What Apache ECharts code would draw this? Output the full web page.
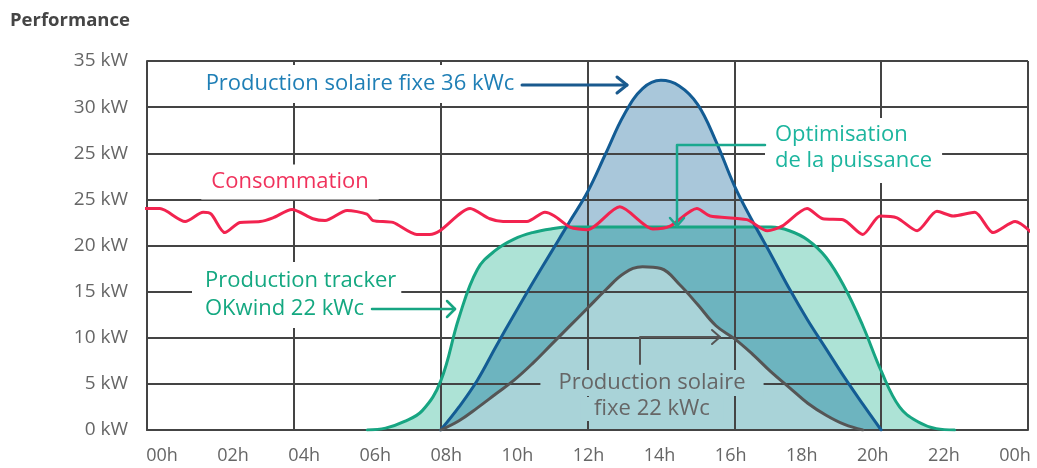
<!DOCTYPE html>
<html><head><meta charset="utf-8">
<script src="https://cdn.jsdelivr.net/npm/echarts@6/dist/echarts.min.js"></script>
<style>html,body{margin:0;padding:0;background:#fff}#c{width:1037px;height:468px}</style>
</head><body><div id="c"></div>
<script>
// ---- data (axis units: y in 5-unit steps matching tick labels, x in hours) ----
const yTickLabels = ['0 kW','5 kW','10 kW','15 kW','20 kW','25 kW','25 kW','30 kW','35 kW'];
const xTickLabels = ['00h','02h','04h','06h','08h','10h','12h','14h','16h','18h','20h','22h','00h'];

const trackerHours  = [6,6.5,7,7.5,8,8.5,9,9.5,10,10.5,11,11.5,12,12.5,13,13.5,14,14.5,15,15.5,16,16.5,17,17.5,18,18.5,19,19.5,20,20.5,21,21.5,22];
const trackerValues = [0,0.2,0.9,2.1,5.3,12.2,17.4,19.5,20.7,21.4,21.8,22,22,22,22,22,22,22,22,22,22,22,22,21.6,20.6,18.7,15.5,11.3,6.4,2.5,0.9,0.15,0];

const fixed36Hours  = [8,8.5,9,9.5,10,10.5,11,11.5,12,12.5,13,13.5,14,14.5,15,15.5,16,16.5,17,17.5,18,18.5,19,19.5,20];
const fixed36Values = [0,2.5,5.4,9.0,12.5,15.9,19.2,22.5,25.8,30.0,34.2,37.0,37.9,37.3,35.3,31.3,26.5,22.6,19.0,15.3,11.9,8.8,5.7,2.8,0];

const fixed22Hours  = [8,8.5,9,9.5,10,10.5,11,11.5,12,12.5,13,13.5,14,14.5,15,15.5,16,16.5,17,17.5,18,18.5,19,19.5];
const fixed22Values = [0,1.0,2.4,3.9,5.4,7.2,9.2,11.2,13.2,15.2,17.0,17.7,17.5,15.8,13.6,11.3,9.9,8.2,6.3,4.6,2.9,1.6,0.6,0];

const consumptionHours  = [-0.05,0.35,1.04,1.53,1.75,2.12,2.53,3.08,3.43,3.95,4.52,4.85,5.45,5.99,6.16,6.7,7.35,7.7,7.98,8.8,9.34,9.7,10.35,10.84,11.1,11.52,11.99,12.88,13.78,14.25,14.98,15.34,16.34,16.9,17.3,17.98,18.41,18.96,19.5,19.97,20.43,20.98,21.52,21.96,22.55,23.05,23.65,24.15];
const consumptionValues = [24.0,24.0,22.6,23.6,23.4,21.4,22.5,22.6,23.0,23.9,22.9,22.7,23.8,23.4,22.7,22.5,21.2,21.2,21.6,24.0,22.9,22.6,22.6,23.6,23.2,22.0,21.7,24.2,21.8,22.1,24.0,23.2,22.8,21.6,22.1,24.0,22.9,22.8,21.2,23.2,23.0,21.6,23.7,23.2,23.6,21.4,22.6,21.2];

// ---- build ----
const pairs = (h, v) => h.map((x, i) => [x, v[i]]);
const overlap = fixed36Hours.map((h, i) => {
  const t = trackerValues[trackerHours.indexOf(h)];
  return [h, Math.min(t, fixed36Values[i])];
});

const FONT = '"Open Sans", Lato, sans-serif';
const SM = 0.4;
const areaSeries = (data, color) => ({
  type: 'line', data, smooth: SM, symbol: 'none', z: 1, silent: true,
  lineStyle: { width: 0, opacity: 0 }, areaStyle: { color, opacity: 1 }
});
const lineSeries = (data, color, smooth, extra) => Object.assign({
  type: 'line', data, smooth, symbol: 'none', z: 4, silent: true,
  lineStyle: { color, width: 3, cap: 'round', join: 'round' }
}, extra || {});

const gridLine = { color: '#444', width: 2 };

const chart = echarts.init(document.getElementById('c'), null, { renderer: 'canvas' });
const txt = (text, x, y, fill, opts) => ({
  type: 'text', x, y, z: 100,
  style: Object.assign({ text, fill, font: '22px ' + FONT, lineHeight: 26, textAlign: 'center', align: 'center', textVerticalAlign: 'middle', verticalAlign: 'middle' }, opts || {})
});
const pl = (points, stroke, w) => ({ type: 'polyline', z: 101, shape: { points }, style: { stroke, lineWidth: w || 2.5, fill: null, lineCap: 'round', lineJoin: 'round' } });

chart.setOption({
  animation: false,
  backgroundColor: '#fff',
  title: { text: 'Performance', left: 5, top: 6, textStyle: { fontSize: 18.5, fontWeight: 'bold', color: '#454545', fontFamily: FONT } },
  grid: [
    { left: 147, right: 9, top: 61, bottom: 38 },
    { left: 162, right: 22, top: 61, bottom: 38 }
  ],
  xAxis: [
    { gridIndex: 0, type: 'value', min: 0, max: 24, interval: 4, z: 3,
      axisLine: { show: true, lineStyle: gridLine }, axisTick: { show: false }, axisLabel: { show: false },
      splitLine: { show: true, lineStyle: gridLine } },
    { gridIndex: 1, type: 'value', min: 0, max: 24, interval: 2,
      axisLine: { show: false }, axisTick: { show: false }, splitLine: { show: false },
      axisLabel: { formatter: v => xTickLabels[Math.round(v / 2)], color: '#666', fontSize: 18, margin: 17, fontFamily: FONT, showMinLabel: true, showMaxLabel: true } }
  ],
  yAxis: [
    { gridIndex: 0, type: 'value', min: 0, max: 40, interval: 5, z: 3,
      axisLine: { show: true, lineStyle: gridLine }, axisTick: { show: false },
      splitLine: { show: true, lineStyle: gridLine },
      axisLabel: { formatter: v => yTickLabels[Math.round(v / 5)], color: '#666', fontSize: 19, margin: 19, fontFamily: FONT, showMinLabel: true, showMaxLabel: true } },
    { gridIndex: 1, type: 'value', min: 0, max: 40, show: false }
  ],
  series: [
    areaSeries(pairs(fixed36Hours, fixed36Values), '#a9c7da'),
    areaSeries(pairs(trackerHours, trackerValues), '#ade3d6'),
    areaSeries(overlap, '#6db4bf'),
    areaSeries(pairs(fixed22Hours, fixed22Values), '#a9d3d8'),
    lineSeries(pairs(trackerHours, trackerValues), '#17a582', SM),
    lineSeries(pairs(fixed36Hours, fixed36Values), '#135c94', SM),
    lineSeries(pairs(fixed22Hours, fixed22Values), '#555555', SM),
    lineSeries(pairs(consumptionHours, consumptionValues), '#f2234f', 0.25, { clip: false, z: 5 })
  ],
  graphic: [
    txt('Production solaire fixe 36 kWc', 360, 84, '#1f7fb6', { backgroundColor: '#fff', padding: [6, 5, 6, 5] }),
    pl([[522, 85], [627, 85]], '#1a5a8e', 3),
    pl([[617, 77], [627, 85], [617, 93]], '#1a5a8e', 3),

    txt('Optimisation\nde la puissance', 765, 118, '#1cb59e', { textAlign: 'left', align: 'left', textVerticalAlign: 'top', verticalAlign: 'top', lineHeight: 26, backgroundColor: '#fff', padding: [4, 10, 9, 10] }),
    pl([[765, 145], [677, 145], [677, 226]], '#1aa88e', 2.5),
    pl([[670, 218], [677, 226], [684, 218]], '#1aa88e', 2.5),

    txt('Consommation', 290, 182, '#f0325c', { backgroundColor: '#fff', padding: [4, 10, 5, 10] }),

    txt('Production tracker\nOKwind 22 kWc', 192, 262, '#14a881', { textAlign: 'left', align: 'left', textVerticalAlign: 'top', verticalAlign: 'top', lineHeight: 28, backgroundColor: '#fff', padding: [5, 5, 5, 13] }),
    pl([[372, 309], [455, 309]], '#17a582', 2.5),
    pl([[447, 301], [455, 309], [447, 317]], '#17a582', 2.5),

    txt('Production solaire', 652, 383, '#666', { lineHeight: 24, backgroundColor: '#a9d3d8', padding: [1, 18, 1, 18] }),
    txt('fixe 22 kWc', 652, 409, '#666', { lineHeight: 24, backgroundColor: '#a9d3d8', padding: [0, 14, 0, 14] }),
    pl([[640, 364], [640, 337], [720, 337]], '#555', 2),
    pl([[712, 330], [720, 337], [712, 344]], '#555', 2)
  ]
});
</script></body></html>
